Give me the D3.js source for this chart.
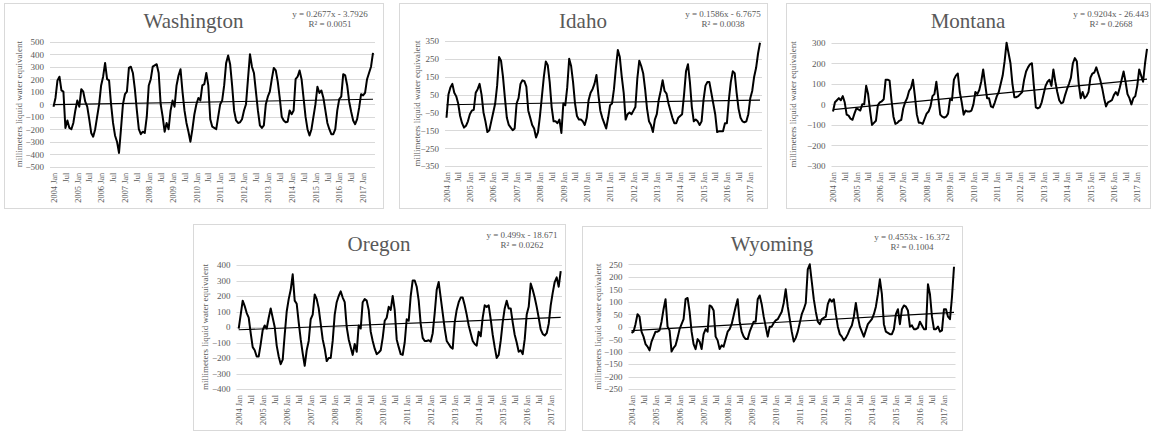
<!DOCTYPE html>
<html>
<head>
<meta charset="utf-8">
<script src="https://cdn.jsdelivr.net/npm/d3@7"></script>
<style>
  body { margin: 0; background: #fff; }
  svg { display: block; }
  text { font-family: "Liberation Serif", "Times New Roman", serif; fill: #595959; }
</style>
</head>
<body>
<script>
// monthly categories, 2004 Jan .. 2017 Jun
const monthNames = ["Jan","Feb","Mar","Apr","May","Jun","Jul","Aug","Sep","Oct","Nov","Dec"];
const months = [];
for (let y = 2004; y <= 2017; y++) monthNames.forEach(m => months.push(y + " " + m));
months.length = 162;

// values (mm liquid water equivalent)
const washington = [
  -20, 50, 190, 220, 110, 100, -190, -130, -190, -200, -150, -50,
  30, -20, 120, 100, 20, -20, -120, -230, -260, -200, -100, 0,
  150, 220, 330, 200, 190, 0, -150, -250, -300, -390, -200, 0,
  80, 100, 290, 300, 250, 120, -50, -200, -240, -220, -230, -100,
  150, 200, 300, 310, 320, 250, 0, -100, -220, -150, -200, -50,
  30, -20, 150, 230, 280, 100, -50, -150, -220, -300, -200, -80,
  0, 50, 30, 150, 160, 250, 150, -120, -180, -190, -200, -100,
  0, 30, 150, 330, 390, 320, 150, -50, -130, -150, -145, -120,
  -50, 0, 200, 400, 300, 250, 100, -50, -170, -190, -170, 0,
  60, 100, 200, 290, 270, 180, 50, -100, -130, -145, -140, -50,
  -80, -50, 200, 220, 270, 200, 50, -100, -200, -250, -200, -100,
  0, 140, 90, 110, 50, -50, -150, -200, -240, -240, -200, -50,
  40, 60, 240, 230, 150, 20, -60, -130, -160, -120, -30, 80,
  70, 90, 200, 250, 300, 410
];
const idaho = [
  -80, 50, 90, 110, 60, 40, 0, -70, -110, -135, -125, -100,
  -60, -40, -35, 60, 80, 110, 50, -50, -100, -160, -150, -100,
  -50, 0, 100, 260, 240, 150, 30, -80, -120, -135, -150, -140,
  0, 30, 110, 130, 125, 95, -40, -80, -120, -140, -190, -160,
  -70, 40, 150, 235, 215, 120, -20, -100, -100, -110, -90, -165,
  0, -10, 90, 250, 210, 120, 0, -70, -90, -90, -100, -120,
  -80, 20, 60, 80, 110, 160, 50, -40, -80, -110, -140, -80,
  -10, 0, 80, 200, 300, 260, 150, 60, -90, -60, -50, -60,
  -40, -20, 140, 240, 210, 170, 80, -30, -100, -120, -160, -90,
  -60, 20, 70, 130, 70, 55, 0, -40, -80, -110, -110, -80,
  -70, -60, 50, 180, 220, 120, -20, -100, -90, -100, -120, -100,
  20, 100, 120, 120, 60, 0, -60, -160, -155, -155, -155, -110,
  -110, 20, 120, 180, 170, 60, -30, -80, -100, -105, -100, -60,
  30, 70, 150, 200, 280, 340
];
const montana = [
  -35, 10, 20, 30, 20, 40, 10, -50, -55, -70, -75, -45,
  -20, -25, -30, 0, 0, 90, 50, -30, -100, -90, -80, -5,
  10, 15, 25, 120, 120, 115, 20, -60, -95, -90, -80, -75,
  -20, 10, 30, 65, 80, 120, 40, -50, -90, -90, -95, -70,
  -45, -35, -10, 40, 50, 110, 30, -50, -60, -65, -60, -45,
  25, 20, 120, 140, 150, 60, 10, -50, -30, -35, -35, -30,
  0, 60, 50, 70, 110, 170, 100, 30, 30, -10, -15, 10,
  40, 60, 100, 140, 210, 300, 250, 200, 100, 35, 35, 40,
  50, 60, 120, 160, 180, 195, 200, 90, -15, -20, -15, 10,
  50, 90, 110, 120, 90, 170, 110, 60, 20, 5, 10, 45,
  75, 100, 130, 200, 225, 210, 100, 30, 60, 30, 40, 60,
  130, 150, 155, 180, 150, 120, 80, 30, -10, 10, 15, 20,
  45, 60, 45, 80, 120, 160, 110, 50, 30, 0, 30, 40,
  90, 170, 140, 110, 200, 270
];
const oregon = [
  -10, 80, 170, 135, 90, 60, -40, -130, -150, -190, -190, -110,
  -20, 10, -10, 60, 120, 60, 0, -120, -190, -240, -210, -50,
  100, 180, 240, 340, 170, 150, 30, -80, -170, -250, -150, -90,
  50, 80, 210, 180, 120, 20, -80, -140, -220, -200, -200, -90,
  80, 160, 200, 230, 190, 160, 0, -80, -130, -180, -110, -160,
  10, -10, 160, 180, 170, 110, -30, -90, -140, -175, -165, -150,
  -70, 40, 60, 130, 110, 200, 110, -80, -130, -175, -180, -100,
  50, 40, 200, 300, 300, 260, 170, 20, -70, -90, -90, -85,
  -95, -40, 90, 240, 290, 190, 90, -10, -90, -110, -130, -140,
  30, 110, 160, 190, 190, 140, 80, 10, -40, -90, -110, -120,
  -30, -60, 60, 140, 130, 140, 50, -50, -130, -200, -180, -90,
  30, 120, 170, 120, 120, 30, -50, -100, -160, -150, -175, -80,
  80, 130, 280, 240, 190, 130, 60, -15, -45, -55, -40, 20,
  140, 220, 290, 320, 260, 360
];
const wyoming = [
  -25, -20, 10, 50, 40, -20, -40, -70, -80, -95, -60, -40,
  -20, -20, -15, 20, 70, 110, 0, -15, -100, -85, -75, -45,
  -10, 10, 30, 110, 115, 60, -20, -70, -90, -50, -60, -90,
  -30, -10, -20, 85, 80, 65, -40, -55, -90, -75, -80, -50,
  -20, -10, 10, 45, 80, 110, 20, -20, -40, -50, -50, -20,
  0, 20, 20, 110, 125, 90, 40, 0, -40, 0, 0, 15,
  25, 30, 45, 60, 95, 150, 80, 30, -20, -60, -45, -20,
  15, 50, 70, 95, 230, 250, 180, 110, 60, 20, 10, 30,
  35, 40, 90, 110, 100, 110, 50, 0, -30, -40, -55, -45,
  -30, -10, 5, 40, 95, 40, 0, -20, -40, -15, 10, 20,
  30, 50, 80, 130, 190, 130, 10, -20, -25, -30, -30, -10,
  50, 70, 10, 70, 85, 80, 65, 0, 5, -10, -10, -5,
  20, 5, -10, -10, 170, 130, 40, -10, -10, 0, -20, -15,
  70, 70, 40, 30, 120, 240
];

// linear trend lines as printed on the chart (x = month number, 1-based)
const trendSlopes = [0.2677, 0.1586, 0.9204, 0.499, 0.4553];
const trendIntercepts = [-3.7926, -6.7675, -26.443, -18.671, -16.372];
const equations = ["y = 0.2677x - 3.7926", "y = 0.1586x - 6.7675", "y = 0.9204x - 26.443", "y = 0.499x - 18.671", "y = 0.4553x - 16.372"];
const rSquared = ["R² = 0.0051", "R² = 0.0038", "R² = 0.2668", "R² = 0.0262", "R² = 0.1004"];

const states = ["Washington", "Idaho", "Montana", "Oregon", "Wyoming"];
const series = [washington, idaho, montana, oregon, wyoming];
const yTicks = [
  d3.range(-500, 501, 100),
  d3.range(-350, 351, 100),
  d3.range(-300, 301, 100),
  d3.range(-400, 401, 100),
  d3.range(-250, 251, 50)
];

// panel layout (pixels): box, grid [left,right], points [first,last], y [top,bottom]
const layout = [
  { box: [4, 3, 379, 205],     grid: [50, 375],    pts: [53.5, 373],   yr: [41.7, 166.7], eqX: 330,  ylabX: 19,  titleY: 28 },
  { box: [399, 3, 368, 205],   grid: [445, 762],   pts: [446.5, 760],  yr: [41, 166],     eqX: 723,  ylabX: 417, titleY: 28 },
  { box: [786, 3, 364, 205],   grid: [831.5, 1148], pts: [833, 1147], yr: [42.7, 166],   eqX: 1111, ylabX: 793, titleY: 28 },
  { box: [193, 224, 372, 206], grid: [236.5, 562], pts: [238.7, 560.7], yr: [265, 389],  eqX: 522,  ylabX: 205, titleY: 251 },
  { box: [582, 226, 380, 204], grid: [628.5, 955.5], pts: [631.5, 954], yr: [264.3, 389], eqX: 912, ylabX: 598, titleY: 251 }
];

const svg = d3.select("body").append("svg")
  .attr("width", 1151)
  .attr("height", 433);

states.forEach((name, k) => {
  const L = layout[k];
  const [bx, by, bw, bh] = L.box;
  const [gl, gr] = L.grid;
  const [pt, pb] = L.yr;
  const ticks = yTicks[k];
  const g = svg.append("g");

  g.append("rect")
    .attr("x", bx + 0.5).attr("y", by + 0.5)
    .attr("width", bw).attr("height", bh)
    .attr("fill", "#fff").attr("stroke", "#d9d9d9");

  const x = d3.scalePoint().domain(months).range(L.pts);
  const y = d3.scaleLinear().domain([ticks[0], ticks[ticks.length - 1]]).range([pb, pt]);

  // gridlines
  g.selectAll(".grid").data(ticks).join("line")
    .attr("x1", gl).attr("x2", gr)
    .attr("y1", d => Math.round(y(d)) + 0.5).attr("y2", d => Math.round(y(d)) + 0.5)
    .attr("stroke", "#d9d9d9").attr("stroke-width", 1);

  // y axis labels
  const yAxis = d3.axisLeft(y).tickValues(ticks).tickSize(0).tickPadding(6);
  const ya = g.append("g").attr("transform", `translate(${gl},0)`).call(yAxis);
  ya.select(".domain").remove();
  ya.selectAll("text").attr("font-size", 9).attr("fill", "#595959")
    .style("font-family", "'Liberation Serif', serif");

  // x axis labels, every 6 months
  const shown = months.filter((m, i) => i % 6 === 0);
  const xAxis = d3.axisBottom(x).tickValues(shown).tickSize(0)
    .tickFormat(m => m.endsWith("Jan") ? m : "Jul");
  const xa = g.append("g").attr("transform", `translate(0,${pb})`).call(xAxis);
  xa.select(".domain").remove();
  xa.selectAll("text")
    .attr("font-size", 8.4).attr("fill", "#595959")
    .style("font-family", "'Liberation Serif', serif")
    .attr("text-anchor", "end")
    .attr("transform", "rotate(-90)")
    .attr("x", -6).attr("y", 0).attr("dy", "0.32em");

  // y axis title
  g.append("text")
    .attr("transform", `translate(${L.ylabX},${(pt + pb) / 2}) rotate(-90)`)
    .attr("text-anchor", "middle").attr("dy", "0.32em")
    .attr("font-size", 9)
    .text("millimeters liquid water equivalent");

  // title
  g.append("text")
    .attr("x", bx + bw / 2).attr("y", L.titleY)
    .attr("text-anchor", "middle")
    .attr("font-size", 21)
    .text(name);

  // equation
  g.append("text").attr("x", L.eqX).attr("y", by + 14)
    .attr("text-anchor", "middle").attr("font-size", 9).text(equations[k]);
  g.append("text").attr("x", L.eqX).attr("y", by + 24)
    .attr("text-anchor", "middle").attr("font-size", 9).text(rSquared[k]);

  // data line
  const line = d3.line()
    .x((d, i) => x(months[i]))
    .y(d => y(d));
  g.append("path").datum(series[k])
    .attr("d", line)
    .attr("fill", "none").attr("stroke", "#000")
    .attr("stroke-width", 2).attr("stroke-linejoin", "round");

  // trend line
  const n = series[k].length;
  g.append("path").datum([0, n - 1])
    .attr("d", d3.line()
      .x(i => x(months[i]))
      .y(i => y(trendSlopes[k] * (i + 1) + trendIntercepts[k])))
    .attr("stroke", "#000").attr("stroke-width", 1.1).attr("fill", "none");
});
</script>
</body>
</html>
